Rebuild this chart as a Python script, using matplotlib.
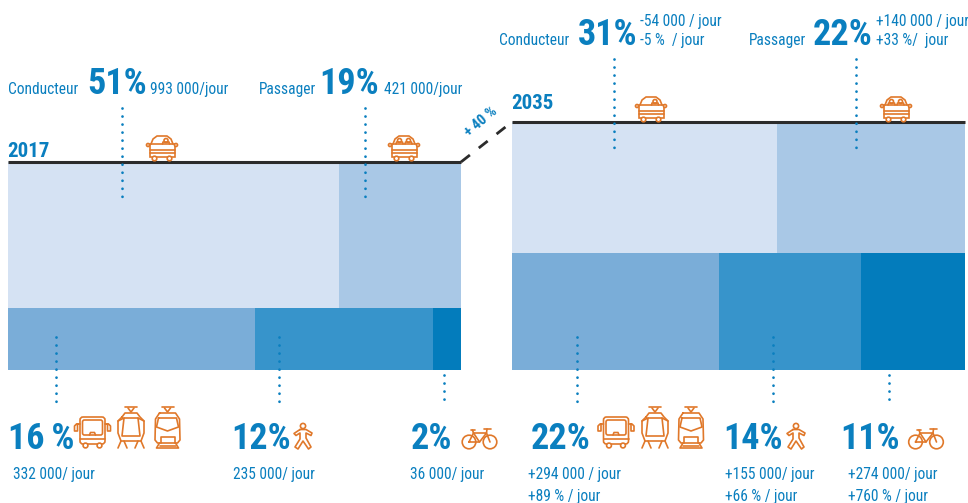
import matplotlib
matplotlib.use("Agg")
import matplotlib.pyplot as plt
from matplotlib.patches import Rectangle, Circle, FancyBboxPatch

# ---------- data ----------
years = ["2017", "2035"]
car_labels = ["Conducteur", "Passager"]
car_2017 = [51, 19]
car_2035 = [31, 22]
car_areas_2017 = [51.2, 18.8]       # areas as drawn
other_2017 = [16.4, 11.8, 1.85]     # areas as drawn
other_2035 = [21.5, 14.7, 10.8]
row_share_2017 = [70, 30]
row_share_2035 = [53, 47]
top_colors = ["#D5E2F3", "#A9C8E6"]
bottom_colors = ["#7AADD8", "#3794CB", "#037CBC"]

BLUE = "#0A7FBF"
ORANGE = "#E0782A"
FONT = ["Roboto Condensed", "Liberation Sans Narrow", "Liberation Sans", "DejaVu Sans"]

fig = plt.figure(figsize=(9.68, 5.03), dpi=100)
ax = fig.add_axes([0, 0, 1, 1])
ax.set_xlim(0, 968)
ax.set_ylim(503, 0)
ax.axis("off")


def block(x0, width, y0, height, top, bottom, shares):
    h_top = height * shares[0] / sum(shares)
    x = x0
    for v, c in zip(top, top_colors):
        w = width * v / sum(top)
        ax.add_patch(Rectangle((x, y0), w, h_top, fc=c, ec="none", zorder=1))
        x += w
    x = x0
    for v, c in zip(bottom, bottom_colors):
        w = width * v / sum(bottom)
        ax.add_patch(Rectangle((x, y0 + h_top), w, height - h_top, fc=c, ec="none", zorder=1))
        x += w
    ax.plot([x0, x0 + width], [y0, y0], color="#2B2B2B", lw=2.2, solid_capstyle="butt", zorder=3)


block(8, 453, 162, 208, car_areas_2017, other_2017, row_share_2017)
block(512, 453, 122, 248, car_2035, other_2035, row_share_2035)

# connector
ax.plot([461, 505.5], [162, 127], color="#2B2B2B", lw=2, ls=(0, (4.07, 4.07)), zorder=3)
ax.text(481, 122, "+ 40 %", color=BLUE, fontsize=10.5, fontweight="bold", family=FONT,
        rotation=40, ha="center", va="center", rotation_mode="anchor")


def dots(x, y0, y1):
    ax.plot([x, x], [y0, y1], color=BLUE, lw=2, ls=(0, (0.01, 2.88)),
            dash_capstyle="round", zorder=4)


for x in (122, 365):
    dots(x, 108, 203)
for x in (614, 856):
    dots(x, 59, 153)
for x in (56, 279, 577, 773):
    dots(x, 337, 402)
for x in (444, 889):
    dots(x, 375, 402)


def t(x, y, s, size=11.2, weight="normal", ha="left"):
    ax.text(x, y, s, color=BLUE, fontsize=size, fontweight=weight, family=FONT,
            ha=ha, va="baseline", zorder=5)


BIG = 26
# year labels
t(7, 157, years[0], 15, "bold")
t(511, 109, years[1], 15, "bold")
# top labels 2017
t(8, 94, car_labels[0])
t(87.5, 94, f"{car_2017[0]}%", BIG, "bold")
t(150, 94, "993 000/jour")
t(259, 94, car_labels[1])
t(319.5, 94, f"{car_2017[1]}%", BIG, "bold")
t(384, 94, "421 000/jour")
# top labels 2035
t(499, 45, car_labels[0])
t(577.5, 45, f"{car_2035[0]}%", BIG, "bold")
t(640, 26, "-54 000 / jour")
t(640, 45, "-5 %  / jour")
t(749, 45, car_labels[1])
t(812.5, 45, f"{car_2035[1]}%", BIG, "bold")
t(876, 26, "+140 000 / jour")
t(876, 45, "+33 %/  jour")
# bottom labels 2017
t(8.5, 449, "16\u2009%", BIG, "bold")
t(231.5, 449, "12%", BIG, "bold")
t(410.5, 449, "2%", BIG, "bold")
t(13, 479, "332 000/ jour")
t(233, 479, "235 000/ jour")
t(410, 479, "36 000/ jour")
# bottom labels 2035
t(530.5, 449, "22%", BIG, "bold")
t(723.5, 449, "14%", BIG, "bold")
t(840.5, 449, "11%", BIG, "bold")
t(528, 479, "+294 000 / jour")
t(528, 501, "+89 % / jour")
t(725, 479, "+155 000/ jour")
t(725, 501, "+66 % / jour")
t(848, 479, "+274 000/ jour")
t(848, 501, "+760 % / jour")

LW = 1.2


def L(cx, cy, pts):
    ax.plot([cx + p[0] for p in pts], [cy + p[1] for p in pts], color=ORANGE, lw=LW,
            solid_capstyle="round", solid_joinstyle="round", zorder=6)


def C(cx, cy, x, y, r, fc="white"):
    ax.add_patch(Circle((cx + x, cy + y), r, fc=fc, ec=ORANGE, lw=LW, zorder=6))


def car(cx, cy, n):
    L(cx, cy, [(-11, -4), (-9, -9), (-5, -12), (5, -12), (9, -9), (11, -4)])
    for x in ([4] if n == 1 else [-4.5, 4.5]):
        C(cx, cy, x, -7.5, 2)
        L(cx, cy, [(x - 3.5, -4), (x - 3, -6), (x + 3, -6), (x + 3.5, -4)])
    ax.add_patch(Rectangle((cx - 12.5, cy - 4), 25, 13, fc="none", ec=ORANGE, lw=LW, zorder=6))
    L(cx, cy, [(-12.5, 1.5), (12.5, 1.5)])
    L(cx, cy, [(-12.5, 5), (12.5, 5)])
    C(cx, cy, -14, -3, 1.5)
    C(cx, cy, 14, -3, 1.5)
    C(cx, cy, -7.5, 10.5, 2.3)
    C(cx, cy, 7.5, 10.5, 2.3)


def bus(cx, cy):
    ax.add_patch(FancyBboxPatch((cx - 12.5, cy - 15), 25, 27, boxstyle="round,pad=0,rounding_size=3",
                                fc="none", ec=ORANGE, lw=LW, zorder=6))
    ax.add_patch(FancyBboxPatch((cx - 10, cy - 12), 20, 15, boxstyle="round,pad=0,rounding_size=2",
                                fc="none", ec=ORANGE, lw=LW, zorder=6))
    L(cx, cy, [(-12.5, 7), (12.5, 7)])
    L(cx, cy, [(-3, 3), (-2, 0.5), (2, 0.5), (3, 3)])
    L(cx, cy, [(-12.5, -8), (-16, -8), (-18, -6), (-18, -1), (-15, -1), (-15, -8)])
    L(cx, cy, [(12.5, -8), (16, -8), (18, -6), (18, -1), (15, -1), (15, -8)])
    C(cx, cy, -7, 13.5, 2.4)
    C(cx, cy, 7, 13.5, 2.4)


def tram(cx, cy):
    L(cx, cy, [(-6, -23), (6, -23)])
    L(cx, cy, [(-3, -22), (0, -18), (3, -22)])
    L(cx, cy, [(-9, -13), (-6, -17), (6, -17), (9, -13), (13, -9), (13, 3), (10, 11), (-10, 11), (-13, 3), (-13, -9), (-9, -13)])
    L(cx, cy, [(-13, -9), (-7, -12), (7, -12), (13, -9)])
    L(cx, cy, [(-7, -12), (-9, 6), (9, 6), (7, -12)])
    L(cx, cy, [(-10, 11), (-13, 18)])
    L(cx, cy, [(10, 11), (13, 18)])
    L(cx, cy, [(-7, 11), (-4, 18)])
    L(cx, cy, [(7, 11), (4, 18)])


def tram2(cx, cy):
    L(cx, cy, [(-6, -23), (6, -23)])
    L(cx, cy, [(-3, -22), (0, -18), (3, -22)])
    L(cx, cy, [(-8, -17), (8, -17), (12, -11), (12.5, 10), (10, 13), (-10, 13), (-12.5, 10), (-12, -11), (-8, -17)])
    L(cx, cy, [(-9, -12), (9, -12), (11, -3), (0, 1), (-11, -3), (-9, -12)])
    L(cx, cy, [(-7, 13), (-7, 7), (7, 7), (7, 13)])
    L(cx, cy, [(-8, 13), (-11, 18), (11, 18), (8, 13)])
    L(cx, cy, [(-8, 15.5), (8, 15.5)])


def walker(cx, cy):
    C(cx, cy, 0, -10, 2.6)
    L(cx, cy, [(-3, -6.5), (3, -6.5), (9, -3), (8, -0.5), (3, -3), (3, 2), (8, 11), (5.5, 13), (0, 5), (-5, 13), (-8, 11), (-3, 3), (-3, -3), (-7, -0.5), (-9, -2.5), (-3, -6.5)])


def bike(cx, cy):
    C(cx, cy, -10.5, 3, 6.8, fc="none")
    C(cx, cy, 10.5, 3, 6.8, fc="none")
    L(cx, cy, [(-10.5, 3), (-6, -6), (7, -6), (0, 3), (-10.5, 3)])
    L(cx, cy, [(-6, -6), (0, 3)])
    L(cx, cy, [(7.5, -10), (7, -6), (10.5, 3)])
    L(cx, cy, [(-9, -9), (-5, -9)])
    L(cx, cy, [(-7, -9), (-6, -6)])
    L(cx, cy, [(4, -10), (11, -10)])


car(162, 148, 1)
car(404, 148, 2)
car(651, 109, 1)
car(896, 109, 2)
bus(92.5, 432)
tram(131, 430)
tram2(167.5, 430)
bus(616, 432)
tram(655, 430)
tram2(691, 430)
walker(303, 436)
walker(796, 436)
bike(479.5, 439)
bike(926, 439)

fig.savefig("out.png", dpi=100)
